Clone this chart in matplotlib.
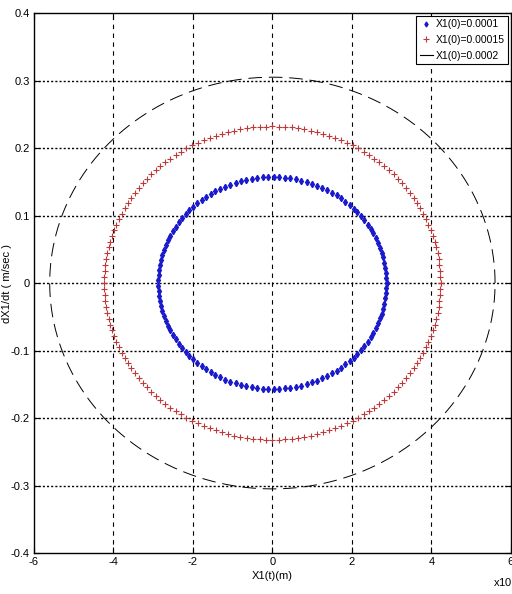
import numpy as np
import matplotlib
matplotlib.use("Agg")
import matplotlib.pyplot as plt
from matplotlib.lines import Line2D
from matplotlib import font_manager

names = {f.name for f in font_manager.fontManager.ttflist}
fam = 'Liberation Sans Narrow' if 'Liberation Sans Narrow' in names else 'Liberation Sans'
plt.rcParams['font.family'] = [fam, 'DejaVu Sans']
plt.rcParams['axes.unicode_minus'] = False

# phase portrait amplitudes
labels = ["X1(0)=0.0001", "X1(0)=0.00015", "X1(0)=0.0002"]
amp_x = [2.87e-4, 4.23e-4, 5.60e-4]     # m
amp_v = [0.157, 0.232, 0.305]           # m/sec
n_pts = [130, 165, 400]

xticks = [-6, -4, -2, 0, 2, 4, 6]
yticks = [-0.4, -0.3, -0.2, -0.1, 0, 0.1, 0.2, 0.3, 0.4]
scale = 1e-4

fig = plt.figure(figsize=(5.12, 5.94), dpi=100)
ax = fig.add_axes([0.066, 0.069, 0.932, 0.909])

def ellipse(a, b, n):
    th = np.linspace(0, 2*np.pi, n)
    return a*np.cos(th)/scale, b*np.sin(th)

x, v = ellipse(amp_x[0], amp_v[0], n_pts[0])
ax.plot(x, v, 'd', color='#1a1acc', ms=3.2, mec='#1a1acc', zorder=4)
x, v = ellipse(amp_x[1], amp_v[1], n_pts[1])
ax.plot(x, v, '+', color='#c03838', ms=4.5, mew=0.8, zorder=4)
x, v = ellipse(amp_x[2], amp_v[2], n_pts[2])
ax.plot(x, v, color='black', lw=0.7, linestyle=(0, (14, 7)), zorder=3)

ax.set_xlim(-6, 6)
ax.set_ylim(-0.4, 0.4)
ax.set_xticks(xticks)
ax.set_yticks(yticks)
ax.set_xticklabels(["%g" % t for t in xticks])
ax.set_yticklabels(["%g" % t for t in yticks])
ax.tick_params(direction='in', length=4, labelsize=8, top=True, right=True, pad=3)

for t in xticks[1:-1]:
    ax.axvline(t, color='black', lw=0.8, linestyle=(0, (4, 4)), zorder=1)
for t in yticks[1:-1]:
    ax.axhline(t, color='black', lw=1.0, linestyle=(0, (1.5, 1.5)), zorder=1)

for s in ax.spines.values():
    s.set_linewidth(1.0)

ax.set_xlabel("X1(t)(m)", fontsize=8, labelpad=3)
ax.set_ylabel("dX1/dt ( m/sec )", fontsize=8)
ax.yaxis.set_label_coords(-0.045, 0.5)
fig.text(0.962, 0.006, r"x10$^{-4}$", fontsize=8, ha='left', va='bottom')

handles = [
    Line2D([], [], marker='d', color='#1a1acc', ls='none', ms=2.5),
    Line2D([], [], marker='+', color='#c03838', ls='none', ms=4, mew=0.8),
    Line2D([], [], color='black', lw=0.8),
]
leg = ax.legend(handles, labels, loc='upper right', fontsize=7.5, fancybox=False,
                framealpha=1, edgecolor='black', borderpad=0.35, labelspacing=0.55,
                handlelength=1.2, handletextpad=0.3, borderaxespad=0.25)
leg.get_frame().set_linewidth(0.8)

fig.savefig("out.png", dpi=100)
